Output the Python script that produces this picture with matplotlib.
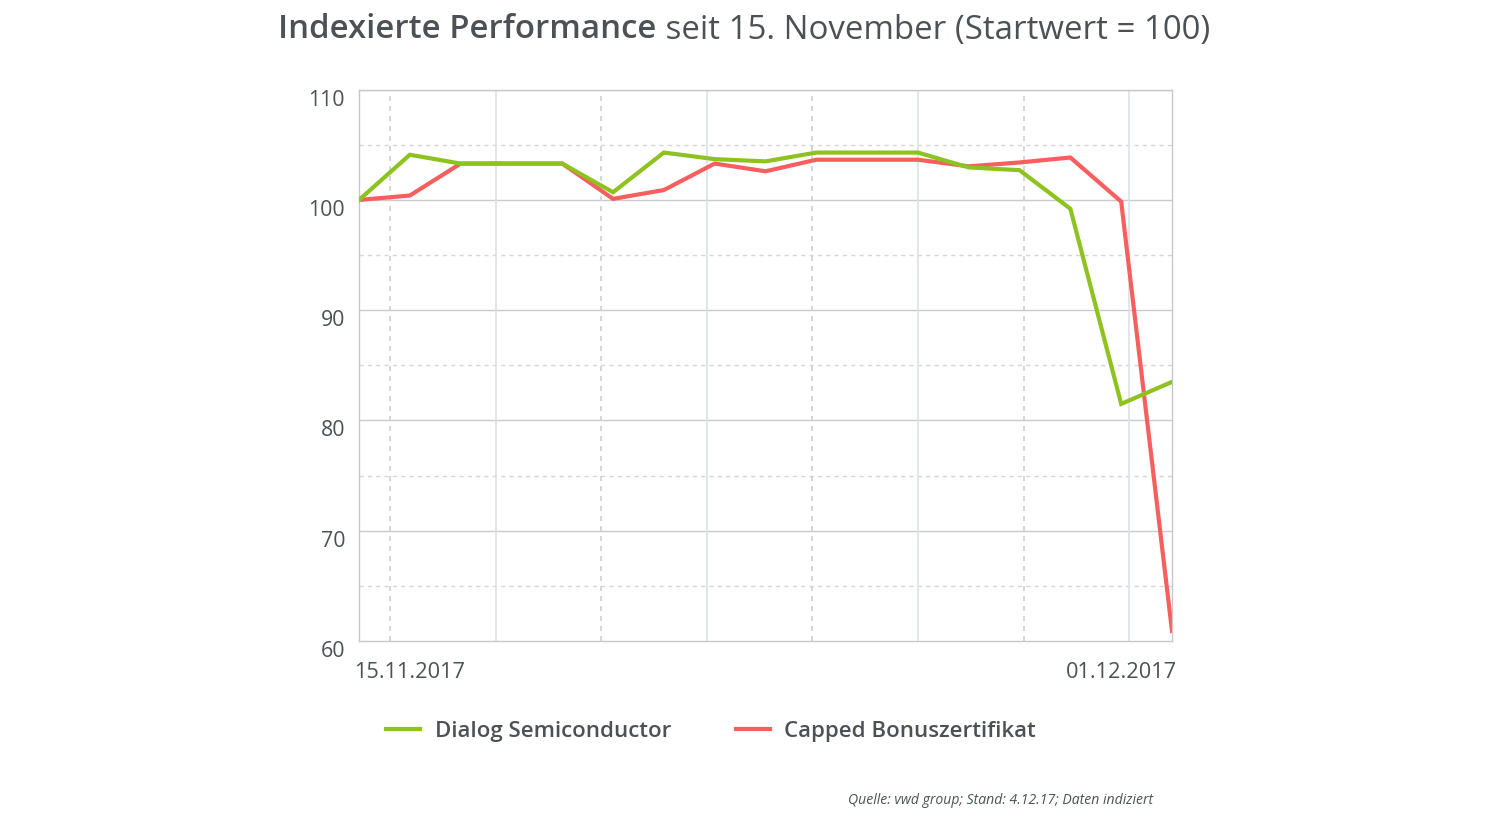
import numpy as np
import matplotlib
matplotlib.use('Agg')
import matplotlib.pyplot as plt
import matplotlib.transforms as mtrans
from matplotlib.lines import Line2D

plt.rcParams['font.family'] = ['Open Sans', 'DejaVu Sans']

# indexed performance, start = 100
days = np.arange(17)
dialog = [100.0, 104.1, 103.3, 103.3, 103.3, 100.7, 104.3, 103.7, 103.5, 104.3,
          104.3, 104.3, 102.95, 102.7, 99.2, 81.5, 83.5]
capped = [100.0, 100.4, 103.3, 103.3, 103.3, 100.1, 100.9, 103.3, 102.6, 103.65,
          103.65, 103.65, 103.05, 103.4, 103.85, 99.85, 60.9]
xlabels = ['15.11.2017', '01.12.2017']
xlabel_pos = [1, 15]
names = ['Dialog Semiconductor', 'Capped Bonuszertifikat']

green = '#8dc21f'
red = '#f65f5e'
txt = '#4b5155'

fig = plt.figure(figsize=(14.88, 8.14), dpi=100)
ax = fig.add_axes([359/1488, 1-641/814, (1172-359)/1488, (641-89.7)/814])

ax.set_xlim(0, 16)
ax.set_ylim(60, 110)

# grid
for y in [70, 80, 90, 100, 110]:
    ax.axhline(y, color='#cbcbcb', lw=1, zorder=1)
for y in [65, 75, 85, 95, 105]:
    ax.axhline(y, color='#d6d6d6', lw=1, ls=(0, (3, 3)), zorder=1)
vx = 0.61 + np.arange(8)*2.078
for i, x in enumerate(vx):
    if i % 2 == 0:
        ax.axvline(x, color='#cdd0d4', lw=1.2, ls=(0, (3, 3)), zorder=1)
    else:
        ax.axvline(x, color='#dde1e6', lw=1.2, zorder=1)

ax.plot(days, dialog, color=green, lw=3, zorder=3, solid_joinstyle='miter')
ax.plot(days, capped, color=red, lw=3, zorder=2, solid_joinstyle='miter')

for s in ax.spines.values():
    s.set_color('#c8c8c8')
    s.set_linewidth(1)

ax.set_yticks([60, 70, 80, 90, 100, 110])
ax.set_yticklabels(['60', '70', '80', '90', '100', '110'])
ax.set_xticks(xlabel_pos)
ax.set_xticklabels(xlabels)
ax.tick_params(axis='y', length=0, pad=10, labelsize=15.3, labelcolor=txt)
ax.tick_params(axis='x', length=0, pad=15, labelsize=15.7, labelcolor=txt)
off = mtrans.ScaledTranslation(0, -8/100, fig.dpi_scale_trans)
for lab in ax.get_yticklabels():
    lab.set_transform(lab.get_transform() + off)

# title in two weights
renderer = fig.canvas.get_renderer()
ty = 1 - 30/814
t1 = fig.text(0, ty, 'Indexierte Performance', fontsize=23.8, fontweight='semibold',
              color=txt, va='center', ha='left')
t2 = fig.text(0, ty, ' seit 15. November (Startwert = 100)', fontsize=23.8,
              color=txt, va='center', ha='left')
w1 = t1.get_window_extent(renderer).width
w2 = t2.get_window_extent(renderer).width
x0 = (1488 - (w1 + w2)) / 2
t1.set_x(x0/1488)
t2.set_x((x0 + w1)/1488)

handles = [Line2D([], [], color=green, lw=3), Line2D([], [], color=red, lw=3)]
leg = fig.legend(handles, names, loc='center', bbox_to_anchor=(711/1488, 1-731/814),
                 ncol=2, frameon=False, handlelength=1.55, handletextpad=0.65,
                 columnspacing=2.9, prop={'size': 16, 'weight': 'semibold'})
for t in leg.get_texts():
    t.set_color(txt)

fig.text(1153/1488, 1-800/814, 'Quelle: vwd group; Stand: 4.12.17; Daten indiziert',
         fontsize=10.1, style='italic', color=txt, ha='right', va='center')

fig.savefig('out.png', dpi=100)
